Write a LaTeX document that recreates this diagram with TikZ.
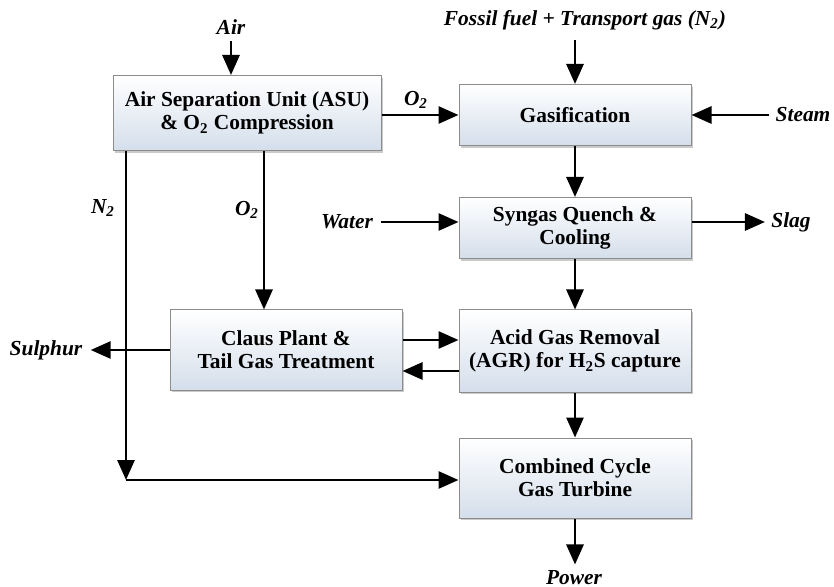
\documentclass[tikz,border=0pt]{standalone}
\usepackage{fontspec}
\setmainfont{Liberation Serif}
\usetikzlibrary{positioning, calc, arrows.meta, shadows}
\definecolor{boxblue}{RGB}{212,222,235}

\begin{document}
\begin{tikzpicture}[x=0.5pt, y=-0.5pt,
    font=\fontsize{10.7}{11.6}\selectfont\bfseries,
    unit/.style={draw=black!45, line width=0.5pt, top color=white, bottom color=boxblue,
        align=center, inner sep=2pt, minimum width=116pt,
        drop shadow={shadow xshift=1.2pt, shadow yshift=-1.2pt, opacity=0.35, fill=black!60}},
    lbl/.style={font=\fontsize{10.7}{11.6}\selectfont\bfseries\itshape, inner sep=1pt},
    flow/.style={line width=1.4pt, -{Triangle[length=10pt, width=8.5pt]}}]

    \useasboundingbox (0,0) rectangle (834,587);

    % 1. Process units
    \node[unit, minimum width=134pt, minimum height=37.5pt] (asu) at (247,113)
        {Air Separation Unit (ASU)\\ \& O\textsubscript{2} Compression};
    \node[unit, minimum height=30.5pt] (gas) at (575,115) {Gasification};
    \node[unit, minimum height=30.5pt] (quench) at (575,228) {Syngas Quench \&\\ Cooling};
    \node[unit, minimum height=41pt] (agr) at (575,351) {Acid Gas Removal\\ (AGR) for H\textsubscript{2}S capture};
    \node[unit, minimum height=40pt] (claus) at (286,350) {Claus Plant \&\\ Tail Gas Treatment};
    \node[unit, minimum height=40pt] (ccgt) at (575,478) {Combined Cycle\\ Gas Turbine};

    % 2. Stream labels
    \node[lbl] (air) at (231,27) {Air};
    \node[lbl] (fuel) at (585,20) {Fossil fuel + Transport gas (N\textsubscript{2})};
    \node[lbl] (steam) at (803,115) {Steam};
    \node[lbl] (water) at (347,222) {Water};
    \node[lbl] (slag) at (791,222) {Slag};
    \node[lbl] (sulphur) at (46,350) {Sulphur};
    \node[lbl] (power) at (574,578) {Power};
    \node[lbl] (o2top) at (416,100) {O\textsubscript{2}};
    \node[lbl] (n2) at (103,208) {N\textsubscript{2}};
    \node[lbl] (o2claus) at (247,210) {O\textsubscript{2}};
    \coordinate (n2c) at (126,480);

    % 3. Feeds and products
    \draw[flow] ([yshift=-2pt]air.south) -- (air.south |- asu.north);
    \draw[flow] ([yshift=-4pt]gas.north |- fuel.south) -- (gas.north);
    \draw[flow] ([xshift=-2pt]steam.west) -- (steam.west -| gas.east);
    \draw[flow] ([xshift=3pt]water.east) -- (water.east -| quench.west);
    \draw[flow] (quench.east |- slag.west) -- ([xshift=-2pt]slag.west);
    \draw[flow] (claus.west) -- ([xshift=3pt]sulphur.east);
    \draw[flow] (ccgt.south) -- ([yshift=2pt]ccgt.south |- power.north);

    % 4. Main gas path
    \draw[flow] (asu.east |- gas.west) -- (gas.west);
    \draw[flow] (gas) -- (quench);
    \draw[flow] (quench) -- (agr);
    \draw[flow] (agr) -- (ccgt);
    \draw[flow] ([yshift=5pt]claus.east) -- ([yshift=5pt]claus.east -| agr.west);
    \draw[flow] ([yshift=-10pt]agr.west) -- ([yshift=-10pt]agr.west -| claus.east);

    % 5. O2 and N2 from the ASU
    \draw[flow] ([xshift=-11pt]claus.north |- asu.south) -- ([xshift=-11pt]claus.north);
    \draw[flow] (asu.south -| n2c) -- (n2c);
    \draw[flow] (n2c) -- (n2c -| ccgt.west);

\end{tikzpicture}
\end{document}
